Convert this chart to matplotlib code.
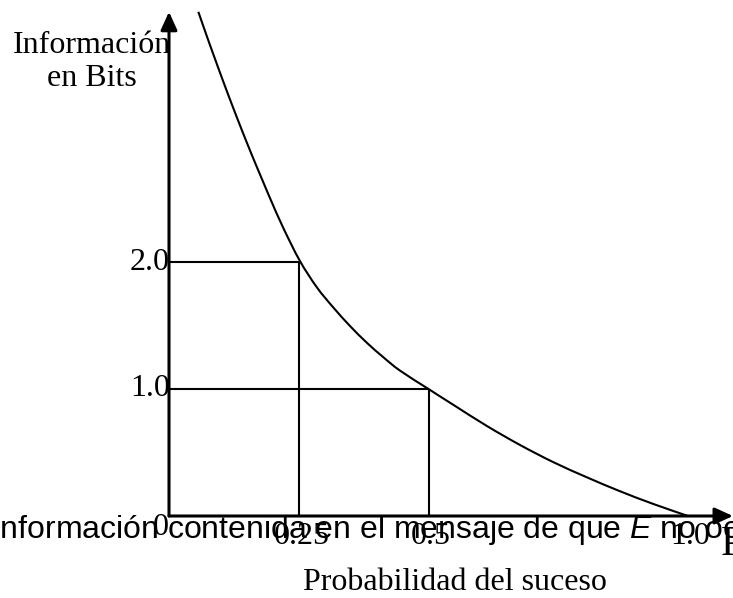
import numpy as np
import matplotlib
matplotlib.use("Agg")
import matplotlib.pyplot as plt
from matplotlib.path import Path
from matplotlib.patches import PathPatch

plt.rcParams['mathtext.fontset'] = 'custom'
plt.rcParams['mathtext.rm'] = 'Liberation Sans'
plt.rcParams['mathtext.it'] = 'Liberation Sans:italic'

# curve: probability vs information (bits)
prob = np.array([0.0565, 0.071, 0.085, 0.1015, 0.1175, 0.134, 0.150, 0.166, 0.182,
                 0.196, 0.220, 0.252, 0.285, 0.317, 0.349, 0.381, 0.413, 0.445,
                 0.5, 0.548, 0.612, 0.676, 0.740, 0.805, 0.869, 0.933, 1.0])
bits = np.array([3.97, 3.80, 3.64, 3.455, 3.28, 3.105, 2.94, 2.78, 2.625,
                 2.49, 2.27, 2.01, 1.80, 1.64, 1.495, 1.365, 1.25, 1.145,
                 1.0, 0.875, 0.71, 0.56, 0.425, 0.305, 0.195, 0.095, 0.0])

# guide points marked on the curve
guide_p = [0.25, 0.5]
guide_bits = [2.0, 1.0]

x_ticks = [0.25, 0.5, 1.0]
x_ticklabels = ['0.25', '0.5', '1.0']
y_ticks = [1.0, 2.0]
y_ticklabels = ['1.0', '2.0']

W, H = 733, 598
fig = plt.figure(figsize=(W / 100, H / 100), dpi=100)
ax = fig.add_axes([169 / W, 82 / H, 564 / W, 516 / H])
ax.set_xlim(0, 564 / 519)
ax.set_ylim(0, 516 / 127)
ax.axis('off')

serif = 'Liberation Serif'
sans = 'Liberation Sans'

# axes with arrows
arrow = dict(arrowstyle='-|>,head_length=0.55,head_width=0.25', lw=2.2,
             color='black', shrinkA=0, shrinkB=0, mutation_scale=20)
ax.annotate('', xy=(564 / 519, 0), xytext=(0, 0), arrowprops=arrow,
            annotation_clip=False)
ax.annotate('', xy=(0, 3.97), xytext=(0, 0), arrowprops=arrow,
            annotation_clip=False)

# guide lines
for p, b in zip(guide_p, guide_bits):
    ax.plot([0, p], [b, b], color='black', lw=1.5, solid_capstyle='butt')
    ax.plot([p, p], [0, b], color='black', lw=1.5, solid_capstyle='butt')

# the curve, drawn as a smooth bezier path through the read points
pts = np.column_stack([prob, bits])
verts = [pts[0]]
codes = [Path.MOVETO]
for i in range(len(pts) - 1):
    p0 = pts[max(i - 1, 0)]
    p1 = pts[i]
    p2 = pts[i + 1]
    p3 = pts[min(i + 2, len(pts) - 1)]
    verts += [p1 + (p2 - p0) / 6, p2 - (p3 - p1) / 6, p2]
    codes += [Path.CURVE4] * 3
ax.add_patch(PathPatch(Path(verts, codes), fill=False, edgecolor='black',
                       lw=1.5, clip_on=False))

# tick labels
for v, lab in zip(y_ticks, y_ticklabels):
    ax.text(0.002, v, lab, ha='right', va='center', fontsize=23, family=serif)
ax.text(-0.015, -0.094, '0', ha='center', va='center', fontsize=23, family=serif)
for v, lab in zip(x_ticks, x_ticklabels):
    ax.text(v + 0.005, -0.16, lab, ha='center', va='center', fontsize=23,
            family=serif)

# labels
fig.text(92 / W, 1 - 62 / H, 'Información\nen Bits', ha='center', va='center',
         fontsize=23, family=serif, linespacing=1.15)
fig.text(455 / W, 1 - 583 / H, 'Probabilidad del suceso', ha='center',
         va='center', fontsize=23, family=serif)
fig.text(721 / W, 1 - 555 / H, 'P', ha='left', va='baseline', fontsize=30,
         family=serif)
fig.text(-9 / W, 1 - 538 / H,
         'Información contenida en el mensaje de que $E$ no ocurre',
         ha='left', va='baseline', fontsize=23, family=sans)

fig.savefig('out.png', dpi=100)
